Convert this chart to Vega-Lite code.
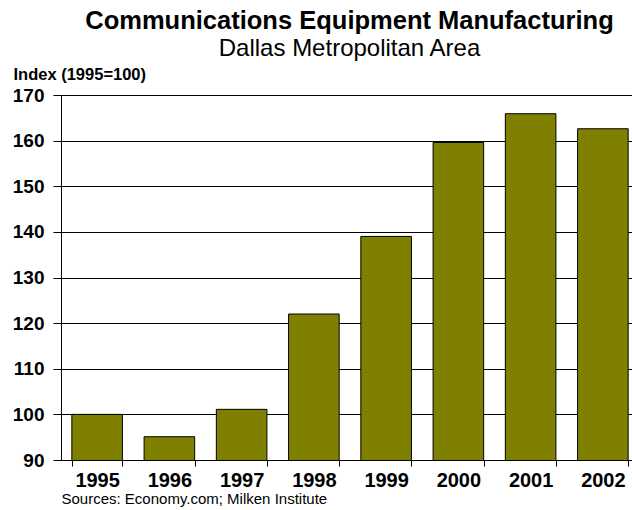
{
  "$schema": "https://vega.github.io/schema/vega-lite/v6.json",
  "autosize": "none",
  "width": 571,
  "height": 365,
  "padding": {"left": 61, "top": 95, "right": 0, "bottom": 50},
  "background": "white",
  "config": {
    "view": {"stroke": null},
    "font": "Liberation Sans",
    "axis": {"labelFont": "Liberation Sans", "titleFont": "Liberation Sans", "labelColor": "black", "titleColor": "black"}
  },
  "data": {
    "values": [
      {"year": "1995", "index": 100.0},
      {"year": "1996", "index": 95.1},
      {"year": "1997", "index": 101.1},
      {"year": "1998", "index": 122.0},
      {"year": "1999", "index": 139.0},
      {"year": "2000", "index": 159.6},
      {"year": "2001", "index": 165.9},
      {"year": "2002", "index": 162.6}
    ]
  },
  "layer": [
    {
      "mark": {"type": "bar", "fill": "#808000", "stroke": "black", "strokeWidth": 1, "clip": true},
      "encoding": {
        "x": {
          "field": "year", "type": "nominal", "sort": null,
          "scale": {"range": [0, 578], "paddingInner": 0.3, "paddingOuter": 0.15},
          "axis": {
            "orient": "bottom",
            "title": "Sources: Economy.com; Milken Institute",
            "titleFontSize": 15, "titleFontWeight": "normal",
            "titleAnchor": "start", "titleAlign": "left", "titleBaseline": "alphabetic",
            "titleX": 0, "titleY": 43,
            "labelAngle": 0, "labelFontSize": 20, "labelFontWeight": "bold", "labelPadding": 4,
            "tickBand": "extent", "tickSize": 6, "tickColor": "black", "domainColor": "black",
            "grid": false
          }
        },
        "y": {
          "field": "index", "type": "quantitative",
          "scale": {"domain": [90, 170], "nice": false, "zero": false},
          "axis": {
            "title": "Index (1995=100)",
            "titleAngle": 0, "titleFontSize": 16.5, "titleFontWeight": "bold",
            "titleAlign": "left", "titleBaseline": "alphabetic",
            "titleX": -48, "titleY": -16,
            "values": [90, 100, 110, 120, 130, 140, 150, 160, 170],
            "labelFontSize": 19, "labelFontWeight": "bold", "labelPadding": 9,
            "tickSize": 8, "tickColor": "black", "domainColor": "black",
            "grid": true, "gridColor": "black", "gridOpacity": 1, "gridWidth": 1
          }
        }
      }
    },
    {
      "mark": {"type": "bar", "opacity": 0, "clip": true},
      "encoding": {
        "x": {
          "field": "year", "type": "nominal", "sort": null,
          "scale": {"range": [0, 578], "paddingInner": 0.3, "paddingOuter": 0.15},
          "axis": {
            "orient": "top", "labels": false, "ticks": false, "domain": false, "grid": false,
            "title": "Communications Equipment Manufacturing",
            "titleFontSize": 25.5, "titleFontWeight": "bold",
            "titleAlign": "center", "titleBaseline": "alphabetic",
            "titleX": 288, "titleY": -67
          }
        },
        "y": {
          "field": "index", "type": "quantitative",
          "scale": {"domain": [90, 170], "nice": false, "zero": false},
          "axis": {
            "orient": "right", "labels": false, "ticks": false, "domain": false, "grid": false,
            "title": "Dallas Metropolitan Area",
            "titleAngle": 0, "titleFontSize": 24, "titleFontWeight": "normal",
            "titleAlign": "center", "titleBaseline": "alphabetic",
            "titleX": -283, "titleY": -40
          }
        }
      }
    }
  ],
  "resolve": {"axis": {"x": "independent", "y": "independent"}}
}
